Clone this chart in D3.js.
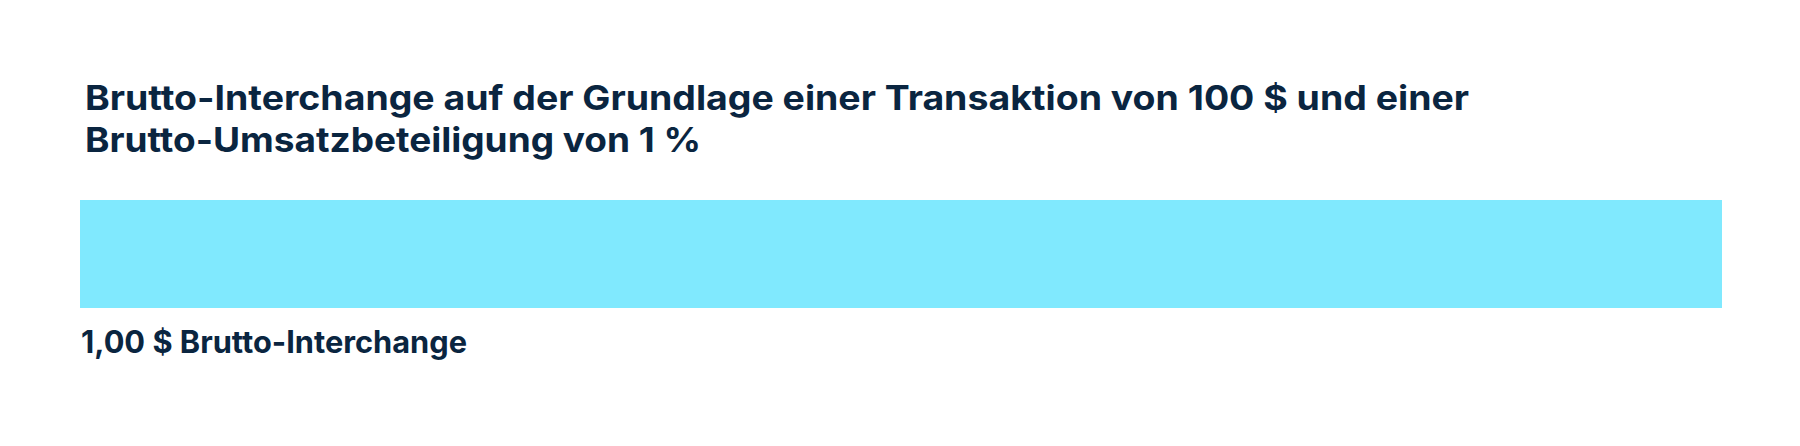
<!DOCTYPE html>
<html>
<head>
<meta charset="utf-8">
<script src="https://cdn.jsdelivr.net/npm/d3@7"></script>
<style>
  body { margin: 0; background: #fff; }
  text { font-family: Inter, "Noto Sans", sans-serif; font-weight: 700; fill: #0a2540; }
</style>
</head>
<body>
<div id="chart"></div>
<script>
// data
const titleLines = [
  "Brutto-Interchange auf der Grundlage einer Transaktion von 100 $ und einer",
  "Brutto-Umsatzbeteiligung von 1 %"
];
const categories = ["Brutto-Interchange"];
const values = [1.00];
const valueLabels = ["1,00 $ Brutto-Interchange"];

const width = 1800;
const height = 446;

const svg = d3.select("#chart")
  .append("svg")
  .attr("width", width)
  .attr("height", height);

// title, two lines, fitted to the reference widths
const titleWidths = [1384, 616];
svg.selectAll(".title")
  .data(titleLines)
  .enter()
  .append("text")
  .attr("class", "title")
  .attr("x", 85)
  .attr("y", (d, i) => 109.5 + i * 42)
  .attr("font-size", 34)
  .attr("textLength", (d, i) => titleWidths[i])
  .attr("lengthAdjust", "spacingAndGlyphs")
  .text(d => d);

// scales
const x = d3.scaleLinear().domain([0, 1]).range([80, 1722]);
const y = d3.scaleBand().domain(categories).range([200, 308]).padding(0);

svg.selectAll(".bar")
  .data(values)
  .enter()
  .append("rect")
  .attr("class", "bar")
  .attr("x", x(0))
  .attr("y", (d, i) => y(categories[i]))
  .attr("width", d => x(d) - x(0))
  .attr("height", y.bandwidth())
  .style("fill", "#80e9fe");

// label under the bar
svg.selectAll(".label")
  .data(valueLabels)
  .enter()
  .append("text")
  .attr("class", "label")
  .attr("x", 81)
  .attr("y", (d, i) => y(categories[i]) + y.bandwidth() + 45)
  .attr("font-size", 31)
  .attr("textLength", 386)
  .attr("lengthAdjust", "spacingAndGlyphs")
  .text(d => d);
</script>
</body>
</html>
